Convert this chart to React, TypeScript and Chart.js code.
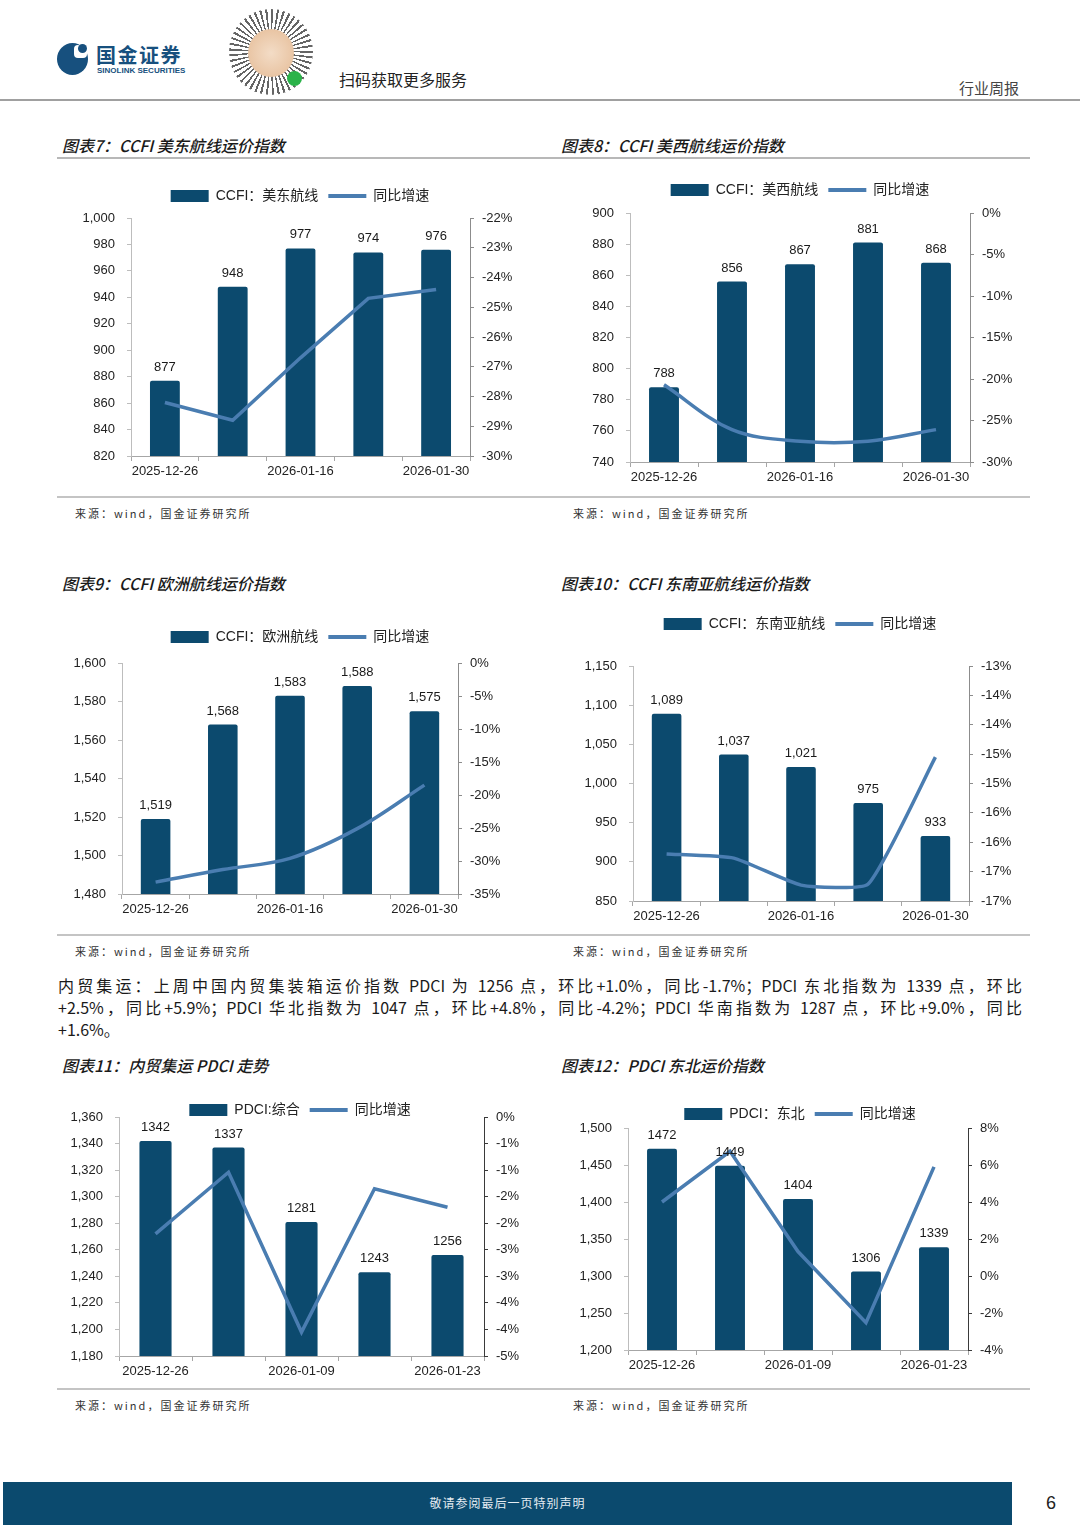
import React, { useEffect, useRef } from "react";
import { Chart, registerables } from "chart.js";

Chart.register(...registerables);

// ---------------- DATA ----------------
const ccfiDates = ["2025-12-26", "2026-01-09", "2026-01-16", "2026-01-23", "2026-01-30"];
const pdciDates = ["2025-12-26", "2026-01-02", "2026-01-09", "2026-01-16", "2026-01-23"];

const usEastIndex = [877, 948, 977, 974, 976];
const usEastYoY = [-28.2, -28.8, -26.7, -24.7, -24.4];
const usEastLeftRange = [820, 1000, 20];
const usEastRightRange = [-30, -22, 1];

const usWestIndex = [788, 856, 867, 881, 868];
const usWestYoY = [-20.7, -26.1, -27.5, -27.5, -26.1];
const usWestLeftRange = [740, 900, 20];
const usWestRightRange = [-30, 0, 5];

const europeIndex = [1519, 1568, 1583, 1588, 1575];
const europeYoY = [-33.2, -31.3, -29.6, -25.1, -18.5];
const europeLeftRange = [1480, 1600, 20];
const europeRightRange = [-35, 0, 5];

const seAsiaIndex = [1089, 1037, 1021, 975, 933];
const seAsiaYoY = [-16.2, -16.27, -16.73, -16.71, -14.55];
const seAsiaLeftRange = [850, 1150, 50];
const seAsiaRightRange = [-17, -13, 0.5];

const pdciIndex = [1342, 1337, 1281, 1243, 1256];
const pdciYoY = [-2.2, -1.04, -4.05, -1.35, -1.7];
const pdciLeftRange = [1180, 1360, 20];
const pdciRightRange = [-4.5, 0, 0.5];

const pdciNEIndex = [1472, 1449, 1404, 1306, 1339];
const pdciNEYoY = [4.0, 6.74, 1.32, -2.52, 5.9];
const pdciNELeftRange = [1200, 1500, 50];
const pdciNERightRange = [-4, 8, 2];

const paragraphLines = [
  "内贸集运：上周中国内贸集装箱运价指数 PDCI 为 1256 点，环比+1.0%，同比-1.7%；PDCI 东北指数为 1339 点，环比",
  "+2.5%，同比+5.9%；PDCI 华北指数为 1047 点，环比+4.8%，同比-4.2%；PDCI 华南指数为 1287 点，环比+9.0%，同比",
  "+1.6%。",
];

// ---------------- STYLE ----------------
const BAR = "#0c4a6e";
const LINE = "#4a7db1";
const FONT = "'Liberation Sans', Arial, 'Noto Sans CJK SC', sans-serif";
const CJK = "'Noto Sans CJK SC', 'Liberation Sans', sans-serif";
const LEGEND_SIZE = 14;

const intPct = (v: number) => `${v}%`;
const roundPct = (v: number) => {
  const r = Math.round(Math.abs(v) + 1e-6);
  return r === 0 ? "0%" : `${v < 0 ? "-" : ""}${r}%`;
};

const barValueLabels = {
  id: "barValueLabels",
  afterDatasetsDraw(chart: any, _args: any, opts: any) {
    const meta = chart.getDatasetMeta(0);
    const ds = chart.data.datasets[0];
    const ctx = chart.ctx;
    ctx.save();
    ctx.font = `13px ${FONT}`;
    ctx.fillStyle = "#1a1a1a";
    ctx.textAlign = "center";
    ctx.textBaseline = "bottom";
    meta.data.forEach((el: any, i: number) => {
      const v = ds.data[i] as number;
      const txt = opts && opts.comma ? v.toLocaleString("en-US") : String(v);
      ctx.fillText(txt, el.x, el.y - 7);
    });
    ctx.restore();
  },
};

type Spec = {
  left: number;
  top: number;
  width: number;
  height: number;
  plotLeft: number;
  plotRight: number;
  plotTop: number;
  legendY: number;
  labels: string[];
  bars: number[];
  line: number[];
  barName: string;
  lineName: string;
  leftRange: number[];
  rightRange: number[];
  rightFmt: (v: number) => string;
  comma: boolean;
  tension: number;
  rightAxisColor: string;
};

function buildConfig(s: Spec): any {
  const P = s.legendY - LEGEND_SIZE / 2 - s.top;
  const natural = LEGEND_SIZE + P + 10;
  const D = s.plotTop - s.top;
  const spacer = D - natural;
  const leftW = s.plotLeft - s.left;
  const rightW = s.left + s.width - s.plotRight;
  const xH = 30;
  const tickFont = { family: FONT, size: 13 };
  return {
    type: "bar",
    data: {
      labels: s.labels,
      datasets: [
        {
          type: "bar",
          label: s.barName,
          data: s.bars,
          backgroundColor: BAR,
          yAxisID: "y",
          order: 2,
          barPercentage: 0.44,
          categoryPercentage: 1,
          borderRadius: 2,
        },
        {
          type: "line",
          label: s.lineName,
          data: s.line,
          borderColor: LINE,
          backgroundColor: LINE,
          borderWidth: 3.5,
          pointRadius: 0,
          tension: s.tension,
          yAxisID: "y1",
          order: 1,
        },
      ],
    },
    options: {
      responsive: false,
      animation: false,
      devicePixelRatio: 1,
      layout: { padding: 0 },
      plugins: {
        legend: {
          display: true,
          position: "top",
          align: "center",
          maxHeight: spacer < 0 ? D : undefined,
          labels: {
            usePointStyle: true,
            pointStyleWidth: 38,
            boxHeight: 12,
            padding: P,
            color: "#222",
            font: { family: FONT, size: LEGEND_SIZE },
            sort: (a: any, b: any) => a.datasetIndex - b.datasetIndex,
            generateLabels: (chart: any) =>
              (Chart.defaults as any).plugins.legend.labels
                .generateLabels(chart)
                .map((it: any) => {
                  const isBar = it.datasetIndex === 0;
                  return {
                    ...it,
                    pointStyle: isBar ? "rect" : "line",
                    lineWidth: isBar ? 0 : 4,
                    strokeStyle: isBar ? BAR : LINE,
                    fillStyle: isBar ? BAR : LINE,
                  };
                }),
          },
        },
        subtitle: {
          display: spacer > 1.3,
          text: "",
          weight: 500,
          position: "top",
          font: { size: 1 },
          padding: { top: 0, bottom: Math.max(0, spacer - 1.2) },
        },
        tooltip: { enabled: false },
        barValueLabels: { comma: s.comma },
      },
      scales: {
        x: {
          type: "category",
          offset: true,
          grid: { offset: true, drawOnChartArea: false, drawTicks: true, tickLength: 5, color: "#a6a6a6" },
          border: { color: "#a6a6a6", width: 1 },
          ticks: {
            autoSkip: false,
            maxRotation: 0,
            minRotation: 0,
            padding: 3,
            color: "#222",
            font: tickFont,
            callback: (_v: any, i: number) => (i % 2 === 0 ? s.labels[i] : ""),
          },
          afterFit: (sc: any) => {
            sc.height = xH;
          },
        },
        y: {
          position: "left",
          min: s.leftRange[0],
          max: s.leftRange[1],
          grid: { drawOnChartArea: false, tickLength: 4, color: "#bdbdbd" },
          border: { color: "#bdbdbd", width: 1 },
          ticks: {
            stepSize: s.leftRange[2],
            padding: 12,
            color: "#222",
            font: tickFont,
            callback: (v: any) => Number(v).toLocaleString("en-US"),
          },
          afterFit: (sc: any) => {
            sc.width = leftW;
          },
        },
        y1: {
          position: "right",
          min: s.rightRange[0],
          max: s.rightRange[1],
          grid: { drawOnChartArea: false, tickLength: 4, color: s.rightAxisColor },
          border: { color: s.rightAxisColor, width: 1 },
          ticks: {
            stepSize: s.rightRange[2],
            padding: 8,
            color: "#222",
            font: tickFont,
            callback: (v: any) => s.rightFmt(Number(v)),
          },
          afterFit: (sc: any) => {
            sc.width = rightW;
          },
        },
      },
    },
    plugins: [barValueLabels],
  };
}

function ComboChart({ spec }: { spec: Spec }) {
  const ref = useRef<HTMLCanvasElement>(null);
  useEffect(() => {
    if (!ref.current) return;
    const chart = new Chart(ref.current, buildConfig(spec));
    return () => chart.destroy();
  }, []);
  return (
    <canvas
      ref={ref}
      width={spec.width}
      height={spec.height}
      style={{ position: "absolute", left: spec.left, top: spec.top, width: spec.width, height: spec.height }}
    />
  );
}

// plot bottom + 30 = canvas bottom
const specs: Spec[] = [
  {
    left: 60, top: 179, width: 480, height: 456 + 30 - 179,
    plotLeft: 131, plotRight: 470, plotTop: 218, legendY: 196,
    labels: ccfiDates, bars: usEastIndex, line: usEastYoY,
    barName: "CCFI：美东航线", lineName: "同比增速",
    leftRange: usEastLeftRange, rightRange: usEastRightRange, rightFmt: intPct,
    comma: true, tension: 0, rightAxisColor: "#8c8c8c",
  },
  {
    left: 560, top: 173, width: 480, height: 462 + 30 - 173,
    plotLeft: 630, plotRight: 970, plotTop: 213, legendY: 190,
    labels: ccfiDates, bars: usWestIndex, line: usWestYoY,
    barName: "CCFI：美西航线", lineName: "同比增速",
    leftRange: usWestLeftRange, rightRange: usWestRightRange, rightFmt: intPct,
    comma: true, tension: 0.35, rightAxisColor: "#8c8c8c",
  },
  {
    left: 60, top: 620, width: 480, height: 894 + 30 - 620,
    plotLeft: 122, plotRight: 458, plotTop: 663, legendY: 637,
    labels: ccfiDates, bars: europeIndex, line: europeYoY,
    barName: "CCFI：欧洲航线", lineName: "同比增速",
    leftRange: europeLeftRange, rightRange: europeRightRange, rightFmt: intPct,
    comma: true, tension: 0.35, rightAxisColor: "#8c8c8c",
  },
  {
    left: 560, top: 607, width: 480, height: 901 + 30 - 607,
    plotLeft: 633, plotRight: 969, plotTop: 666, legendY: 624,
    labels: ccfiDates, bars: seAsiaIndex, line: seAsiaYoY,
    barName: "CCFI：东南亚航线", lineName: "同比增速",
    leftRange: seAsiaLeftRange, rightRange: seAsiaRightRange, rightFmt: roundPct,
    comma: true, tension: 0.15, rightAxisColor: "#8c8c8c",
  },
  {
    left: 60, top: 1093, width: 480, height: 1356 + 30 - 1093,
    plotLeft: 119, plotRight: 484, plotTop: 1117, legendY: 1110,
    labels: pdciDates, bars: pdciIndex, line: pdciYoY,
    barName: "PDCI:综合", lineName: "同比增速",
    leftRange: pdciLeftRange, rightRange: pdciRightRange, rightFmt: roundPct,
    comma: false, tension: 0, rightAxisColor: "#3a3a3a",
  },
  {
    left: 560, top: 1097, width: 480, height: 1350 + 30 - 1097,
    plotLeft: 628, plotRight: 968, plotTop: 1128, legendY: 1114,
    labels: pdciDates, bars: pdciNEIndex, line: pdciNEYoY,
    barName: "PDCI：东北", lineName: "同比增速",
    leftRange: pdciNELeftRange, rightRange: pdciNERightRange, rightFmt: intPct,
    comma: false, tension: 0, rightAxisColor: "#3a3a3a",
  },
];

const titles = [
  { text: "图表7：CCFI 美东航线运价指数", x: 62, y: 145 },
  { text: "图表8：CCFI 美西航线运价指数", x: 561, y: 145 },
  { text: "图表9：CCFI 欧洲航线运价指数", x: 62, y: 583 },
  { text: "图表10：CCFI 东南亚航线运价指数", x: 561, y: 583 },
  { text: "图表11：内贸集运 PDCI 走势", x: 62, y: 1065 },
  { text: "图表12：PDCI 东北运价指数", x: 561, y: 1065 },
];

const sourceRows = [513, 951, 1405];

const abs = (o: React.CSSProperties): React.CSSProperties => ({ position: "absolute", ...o });

export default function App() {
  return (
    <div
      style={abs({
        left: 0,
        top: 0,
        width: 1080,
        height: 1527,
        background: "#fff",
        overflow: "hidden",
        fontFamily: CJK,
        color: "#222",
      })}
    >
      {/* header logo */}
      <div style={abs({ left: 57, top: 43, width: 31, height: 32, borderRadius: "50%", background: "#17507e" })} />
      <div style={abs({ left: 74, top: 45, width: 13, height: 13, borderRadius: 4, background: "#fff" })} />
      <div style={abs({ left: 78, top: 44, width: 9, height: 9, borderRadius: "50%", background: "#17507e" })} />
      <div
        style={abs({
          left: 96,
          top: 43,
          fontSize: 20,
          fontWeight: 700,
          color: "#17507e",
          letterSpacing: 1.5,
          lineHeight: "24px",
          fontFamily: CJK,
        })}
      >
        国金证券
      </div>
      <div
        style={abs({
          left: 97,
          top: 66,
          fontSize: 8,
          fontWeight: 700,
          color: "#17507e",
          lineHeight: "9px",
          fontFamily: FONT,
          whiteSpace: "nowrap",
        })}
      >
        SINOLINK SECURITIES
      </div>
      {/* QR-like mark */}
      <div
        style={abs({
          left: 229,
          top: 9,
          width: 84,
          height: 86,
          borderRadius: "50%",
          background: "repeating-conic-gradient(#4a4a4a 0deg 3deg, #ffffff 3deg 8deg)",
          opacity: 0.85,
        })}
      />
      <div
        style={abs({
          left: 248,
          top: 29,
          width: 46,
          height: 48,
          borderRadius: "50%",
          background: "radial-gradient(circle, #f3dcc6 0%, #e9c5a4 70%, #d9b08d 100%)",
        })}
      />
      <div style={abs({ left: 287, top: 71, width: 15, height: 15, borderRadius: "50%", background: "#2bb34a" })} />
      <div style={abs({ left: 339, top: 68, fontSize: 16, lineHeight: "22px", color: "#222", whiteSpace: "nowrap" })}>
        扫码获取更多服务
      </div>
      <div style={abs({ left: 959, top: 78, fontSize: 15, lineHeight: "20px", color: "#444", whiteSpace: "nowrap" })}>
        行业周报
      </div>
      <div style={abs({ left: 0, top: 99, width: 1080, height: 2, background: "#a0a0a0" })} />

      {/* titles */}
      {titles.map((t, i) => (
        <div
          key={i}
          style={abs({
            left: t.x,
            top: t.y - 10,
            fontSize: 16,
            lineHeight: "20px",
            fontStyle: "italic",
            fontWeight: 500,
            color: "#1a1a1a",
            whiteSpace: "nowrap",
          })}
        >
          {t.text}
        </div>
      ))}
      <div style={abs({ left: 57, top: 157, width: 973, height: 2, background: "#b8b8b8" })} />

      {/* source lines */}
      {sourceRows.map((y, i) => (
        <React.Fragment key={i}>
          <div style={abs({ left: 57, top: y - 17, width: 973, height: 2, background: "#c4c4c4" })} />
          {[75, 573].map((x) => (
            <div
              key={x}
              style={abs({
                left: x,
                top: y - 8,
                fontSize: 11,
                lineHeight: "16px",
                letterSpacing: 2,
                color: "#333",
                whiteSpace: "nowrap",
              })}
            >
              来源：wind，国金证券研究所
            </div>
          ))}
        </React.Fragment>
      ))}

      {/* paragraph */}
      {paragraphLines.map((line, i) => (
        <div
          key={i}
          style={abs({
            left: 58,
            top: 974 + i * 22,
            width: 964,
            fontSize: 16,
            lineHeight: "22px",
            color: "#1a1a1a",
            whiteSpace: "nowrap",
            textAlign: i < 2 ? "justify" : "left",
            textAlignLast: i < 2 ? "justify" : "left",
          } as React.CSSProperties)}
        >
          {line}
        </div>
      ))}

      {/* charts */}
      {specs.map((s, i) => (
        <ComboChart key={i} spec={s} />
      ))}

      {/* footer */}
      <div style={abs({ left: 3, top: 1482, width: 1009, height: 43, background: "#0b4a6e" })} />
      <div
        style={abs({
          left: 3,
          top: 1494,
          width: 1009,
          textAlign: "center",
          fontSize: 12,
          lineHeight: "18px",
          color: "#e4ecf2",
          letterSpacing: 1,
        })}
      >
        敬请参阅最后一页特别声明
      </div>
      <div style={abs({ left: 1046, top: 1491, fontSize: 18, lineHeight: "24px", color: "#222", fontFamily: FONT })}>6</div>
    </div>
  );
}
